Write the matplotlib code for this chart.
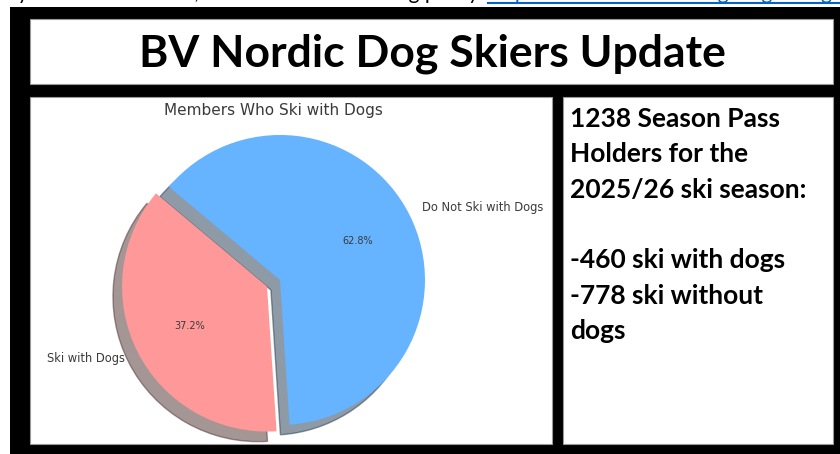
import matplotlib
matplotlib.use("Agg")
import matplotlib.pyplot as plt
from matplotlib.patches import Rectangle

# ---- data ----
categories = ["Ski with Dogs", "Do Not Ski with Dogs"]
members = [460, 778]
colors = ["#ff9999", "#66b3ff"]
chart_title = "Members Who Ski with Dogs"
page_title = "BV Nordic Dog Skiers Update"
info_lines = [
    "1238 Season Pass",
    "Holders for the",
    "2025/26 ski season:",
    "",
    "-460 ski with dogs",
    "-778 ski without",
    "dogs",
]
top_text = "by the club directors, as outlined in the skiing policy:"
top_link = "https://www.bvnordic.org/dog-skiing-policy"

W, H = 840, 454
fig = plt.figure(figsize=(W / 100, H / 100), dpi=100)
fig.patch.set_facecolor("white")

bg = fig.add_axes([0, 0, 1, 1])
bg.set_xlim(0, W)
bg.set_ylim(H, 0)
bg.axis("off")

# cut-off text line at the very top
bg.text(6, -1.0, top_text, fontsize=15, family="Lato", color="black",
        va="baseline", ha="left", clip_on=True)
bg.text(488, -1.0, top_link, fontsize=15, family="Lato", color="#0563c1",
        va="baseline", ha="left", clip_on=True)
bg.plot([488, 840], [2.5, 2.5], color="#0563c1", lw=1.5)

# black background block
bg.add_patch(Rectangle((10, 7), 830, 447, facecolor="black", edgecolor="none"))
# title box
bg.add_patch(Rectangle((30, 19), 803, 65, facecolor="white", edgecolor="#9a9a9a", lw=0.8))
bg.text(432.5, 53.5, page_title, fontsize=32, family="Lato", weight="bold",
        color="black", ha="center", va="center")
# left panel
bg.add_patch(Rectangle((30, 97), 522, 347, facecolor="white", edgecolor="#9a9a9a", lw=0.8))
# right panel
bg.add_patch(Rectangle((563, 97), 270, 347, facecolor="white", edgecolor="#9a9a9a", lw=0.8))

y0 = 127
for i, line in enumerate(info_lines):
    bg.text(570, y0 + i * 35.3, line, fontsize=19, family="Lato", weight="bold",
            color="black", ha="left", va="baseline")

# pie chart
ax = fig.add_axes([30 / W, (H - 444) / H, 522 / W, 347 / H])
ax.pie(members, labels=categories, colors=colors, autopct="%1.1f%%",
       startangle=140, explode=(0.1, 0),
       shadow={"ox": -0.045, "oy": -0.05},
       textprops={"color": "#3a3a3a", "fontsize": 8.3},
       )
for t in ax.texts:
    if t.get_text().endswith("%"):
        t.set_fontsize(7)
ax.set_aspect("auto")
ax.set_xlim(-1.724, 1.876)
ax.set_ylim(-1.131, 1.262)
ax.axis("off")
ax.text(0.467, 0.9625, chart_title, transform=ax.transAxes, ha="center",
        va="center", fontsize=11, color="#3a3a3a")

fig.savefig("out.png", dpi=100, facecolor="white")
